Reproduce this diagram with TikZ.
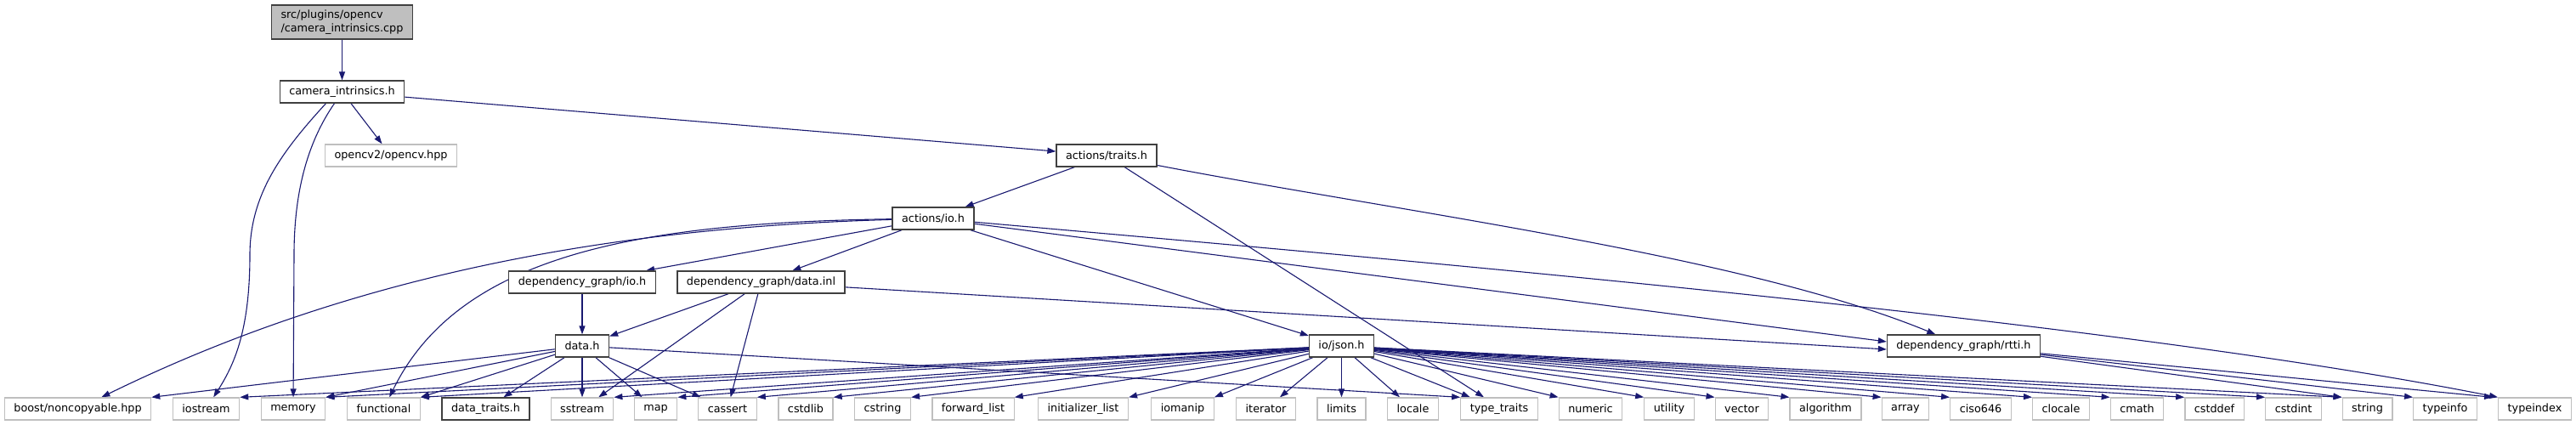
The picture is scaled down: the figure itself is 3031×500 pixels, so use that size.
\documentclass[tikz,border=0pt]{standalone}
\usepackage{fontspec}
\setmainfont{DejaVu Sans}
\usetikzlibrary{arrows.meta,backgrounds}

\definecolor{edgeblue}{HTML}{191970}
\definecolor{nodegrey}{HTML}{BFBFBF}
\definecolor{framegrey}{HTML}{404040}

\begin{document}
\begin{tikzpicture}[x=1pt, y=-1pt, >={Triangle[length=10pt, width=7pt]},
  every node/.style={font=\fontsize{12.8}{16}\selectfont, inner xsep=11pt, inner ysep=0pt, minimum height=26pt},
  docfile/.style={draw=framegrey, line width=1.3pt, fill=white},
  sysfile/.style={draw=nodegrey, line width=1.3pt, fill=white},
  rootfile/.style={draw=framegrey, line width=1.3pt, fill=nodegrey, align=left, minimum height=40pt},
  inc/.style={->, draw=edgeblue, line width=1.1pt}]
  \useasboundingbox (0,0) rectangle (3031,500);

  % project headers
  \node[rootfile] (root) at (402.5,26) {src/plugins/opencv\\/camera\_intrinsics.cpp};
  \node[docfile] (camint) at (402.5,108) {camera\_intrinsics.h};
  \node[sysfile] (opencv) at (460,183) {opencv2/opencv.hpp};
  \node[docfile] (traits) at (1302,183) {actions/traits.h};
  \node[docfile] (actio) at (1098,257) {actions/io.h};
  \node[docfile] (dgio) at (685,332) {dependency\_graph/io.h};
  \node[docfile] (datainl) at (895.5,332) {dependency\_graph/data.inl};
  \node[docfile] (datah) at (685,407) {data.h};
  \node[docfile] (json) at (1578.5,407) {io/json.h};
  \node[docfile] (rtti) at (2310.5,407) {dependency\_graph/rtti.h};

  % bottom row
  \node[sysfile] (boost) at (91.5,481) {boost/noncopyable.hpp};
  \node[sysfile] (iostream) at (242.5,481) {iostream};
  \node[sysfile] (memory) at (345,481) {memory};
  \node[sysfile] (functional) at (451.5,481) {functional};
  \node[docfile] (datatraits) at (571.5,481) {data\_traits.h};
  \node[sysfile] (sstream) at (685,481) {sstream};
  \node[sysfile] (map) at (771.5,481) {map};
  \node[sysfile] (cassert) at (856,481) {cassert};
  \node[sysfile] (cstdlib) at (948,481) {cstdlib};
  \node[sysfile] (cstring) at (1038.5,481) {cstring};
  \node[sysfile] (fwdlist) at (1145,481) {forward\_list};
  \node[sysfile] (initlist) at (1274.5,481) {initializer\_list};
  \node[sysfile] (iomanip) at (1391.5,481) {iomanip};
  \node[sysfile] (iterator) at (1489.5,481) {iterator};
  \node[sysfile] (limits) at (1578.5,481) {limits};
  \node[sysfile] (locale) at (1662.5,481) {locale};
  \node[sysfile] (typetraits) at (1764,481) {type\_traits};
  \node[sysfile] (numeric) at (1871.5,481) {numeric};
  \node[sysfile] (utility) at (1964,481) {utility};
  \node[sysfile] (vector) at (2049.5,481) {vector};
  \node[sysfile] (algorithm) at (2148,481) {algorithm};
  \node[sysfile] (array) at (2242,481) {array};
  \node[sysfile] (ciso) at (2330.5,481) {ciso646};
  \node[sysfile] (clocale) at (2425,481) {clocale};
  \node[sysfile] (cmath) at (2514.5,481) {cmath};
  \node[sysfile] (cstddef) at (2605.5,481) {cstddef};
  \node[sysfile] (cstdint) at (2698.5,481) {cstdint};
  \node[sysfile] (string) at (2785.5,481) {string};
  \node[sysfile] (typeinfo) at (2877,481) {typeinfo};
  \node[sysfile] (typeindex) at (2982.5,481) {typeindex};

  % includes, kept under the boxes
  \begin{pgfonlayer}{background}
  \draw[inc] (root) -- (camint);
  \draw[inc] (camint) -- (opencv);
  \draw[inc] (camint) -- (traits);
  \draw[inc] ([xshift=-19pt]camint.south) .. controls (330,180) and (294,230) .. (294,300)
    .. controls (294,390) and (275,430) .. (iostream);
  \draw[inc] ([xshift=-9pt]camint.south) .. controls (360,170) and (346,230) .. (346,300) -- (memory);
  \draw[inc] (traits) -- (actio);
  \draw[inc] (traits) -- ([xshift=-18pt]typetraits.north);
  \draw[inc] (traits) .. controls (1650,250) and (2050,300) .. (rtti);
  \draw[inc] (actio) -- (dgio);
  \draw[inc] (actio) -- (datainl);
  \draw[inc] (actio) .. controls (700,268) and (400,330) .. (boost);
  \draw[inc] (actio) .. controls (750,262) and (540,300) .. (functional);
  \draw[inc] (actio) -- (json);
  \draw[inc] (actio) -- ([yshift=5pt]rtti.west);
  \draw[inc] (actio) .. controls (1700,310) and (2500,380) .. (typeindex.north west);
  \draw[inc] (dgio) -- (datah);
  \draw[inc] (datainl) -- (datah);
  \draw[inc] (datainl) -- (sstream);
  \draw[inc] (datainl) -- (cassert);
  \draw[inc] (datainl) -- ([yshift=-4pt]rtti.west);
  \foreach \t in {boost,memory,functional}
    \draw[inc] (datah) -- (\t.north east);
  \foreach \t in {datatraits,sstream,map,cassert}
    \draw[inc] (datah) -- (\t);
  \draw[inc] (datah) -- (typetraits.north west);
  \foreach \t in {iostream,memory,functional,sstream,map,cassert,cstdlib,cstring,fwdlist,initlist,iomanip}
    \draw[inc] (json) -- (\t.north east);
  \foreach \t in {iterator,limits,locale,typetraits}
    \draw[inc] (json) -- (\t);
  \foreach \t in {numeric,utility,vector,algorithm,array,ciso,clocale,cmath,cstddef,cstdint,string}
    \draw[inc] (json) -- (\t.north west);
  \foreach \t in {string,typeinfo}
    \draw[inc] (rtti) -- (\t.north west);
  \draw[inc] (rtti) -- ([xshift=-6pt]typeindex.north west);
  \end{pgfonlayer}
\end{tikzpicture}
\end{document}
